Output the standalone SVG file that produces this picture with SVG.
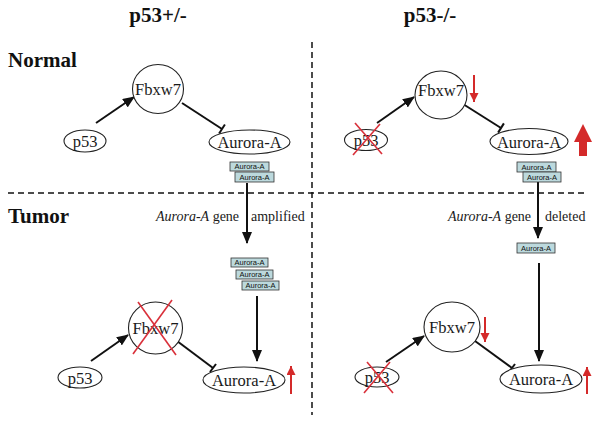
<svg xmlns="http://www.w3.org/2000/svg" width="601" height="423" viewBox="0 0 601 423">
<defs>
<style>
.node{fill:#fff;stroke:#222;stroke-width:1.1}
.lbl{font-family:"Liberation Serif","Times New Roman",serif;font-size:16.5px;fill:#1a1a1a;text-anchor:middle}
.title{font-family:"Liberation Serif","Times New Roman",serif;font-size:21px;font-weight:bold;fill:#111}
.cap{font-family:"Liberation Serif","Times New Roman",serif;font-size:14px;fill:#1a1a1a}
.box{fill:#bcd9dd;stroke:#333;stroke-width:0.8}
.btxt{font-family:"Liberation Sans",Arial,sans-serif;font-size:7.5px;fill:#111;text-anchor:middle}
.edge{stroke:#111;stroke-width:2;fill:none}
.dash{stroke:#111;stroke-width:1.5;stroke-dasharray:6 4;fill:none}
.x{stroke:#d9303a;stroke-width:1.6}
.red{stroke:#d42a2a;stroke-width:2}
</style>
<marker id="ah" markerUnits="userSpaceOnUse" markerWidth="12" markerHeight="10" refX="11" refY="5" orient="auto">
<path d="M0,0 L12,5 L0,10 Z" fill="#111"/>
</marker>
<marker id="rh" markerUnits="userSpaceOnUse" markerWidth="9" markerHeight="10" refX="9" refY="4.5" orient="auto">
<path d="M0,0 L9,4.5 L0,9 Z" fill="#d42a2a"/>
</marker>
</defs>
<rect width="601" height="423" fill="#fff"/>

<g id="headers">
<text class="title" x="158" y="22" text-anchor="middle">p53+/-</text>
<text class="title" x="430" y="22" text-anchor="middle">p53-/-</text>
<text class="title" x="8" y="67">Normal</text>
<text class="title" x="8" y="223">Tumor</text>
<text class="cap" x="156" y="221"><tspan font-style="italic">Aurora-A</tspan> gene</text>
<text class="cap" x="251" y="221">amplified</text>
<text class="cap" x="448" y="221"><tspan font-style="italic">Aurora-A</tspan> gene</text>
<text class="cap" x="545" y="221">deleted</text>
</g>

<g id="dividers">
<line class="dash" x1="8" y1="193" x2="586" y2="193"/>
<line class="dash" x1="312" y1="42" x2="312" y2="415"/>
</g>

<g id="connectors">
<!-- top left -->
<line class="edge" x1="96" y1="123" x2="134" y2="97" marker-end="url(#ah)"/>
<line class="edge" x1="182" y1="103" x2="222" y2="129"/>
<line class="edge" x1="219.1" y1="133.5" x2="224.9" y2="124.5"/>
<line class="edge" x1="247" y1="183" x2="247" y2="243" marker-end="url(#ah)"/>
<line class="edge" x1="257" y1="296" x2="257" y2="361" marker-end="url(#ah)"/>
<!-- top right -->
<line class="edge" x1="377" y1="123" x2="414" y2="97" marker-end="url(#ah)"/>
<line class="edge" x1="463" y1="104" x2="501" y2="128"/>
<line class="edge" x1="498.1" y1="132.6" x2="503.9" y2="123.4"/>
<line class="edge" x1="538" y1="182" x2="538" y2="238" marker-end="url(#ah)"/>
<line class="edge" x1="539" y1="263" x2="539" y2="361" marker-end="url(#ah)"/>
<!-- bottom left -->
<line class="edge" x1="91" y1="361" x2="128" y2="335" marker-end="url(#ah)"/>
<line class="edge" x1="177" y1="341" x2="213" y2="368"/>
<line class="edge" x1="210" y1="372" x2="216" y2="364"/>
<!-- bottom right -->
<line class="edge" x1="386" y1="362" x2="424" y2="336" marker-end="url(#ah)"/>
<line class="edge" x1="475" y1="341" x2="512" y2="368"/>
<line class="edge" x1="509" y1="372" x2="515" y2="364"/>
</g>

<g id="n-p53-tl">
<ellipse class="node" cx="85" cy="141" rx="21" ry="11"/>
<text class="lbl" x="85" y="147">p53</text>
</g>
<g id="n-fbxw7-tl">
<ellipse class="node" cx="158" cy="89" rx="25.5" ry="24.5"/>
<text class="lbl" x="158" y="95">Fbxw7</text>
</g>
<g id="n-aurora-tl">
<ellipse class="node" cx="249.5" cy="142" rx="40.5" ry="12"/>
<text class="lbl" x="249.5" y="148">Aurora-A</text>
</g>
<g id="n-boxes-tl">
<rect class="box" x="230" y="162" width="39" height="9"/>
<text class="btxt" x="249.5" y="169.3">Aurora-A</text>
<rect class="box" x="235" y="172" width="39" height="10"/>
<text class="btxt" x="254.5" y="180">Aurora-A</text>
</g>
<g id="n-boxes-bl">
<rect class="box" x="231" y="258" width="37" height="9"/>
<text class="btxt" x="249.5" y="265.3">Aurora-A</text>
<rect class="box" x="236" y="270" width="37" height="9"/>
<text class="btxt" x="254.5" y="277.3">Aurora-A</text>
<rect class="box" x="242" y="281" width="37" height="9"/>
<text class="btxt" x="260.5" y="288.3">Aurora-A</text>
</g>

<g id="n-p53-tr">
<ellipse class="node" cx="366" cy="140" rx="21.5" ry="10.5"/>
<text class="lbl" x="366" y="146">p53</text>
<line class="x" x1="355" y1="123" x2="382" y2="154"/>
<line class="x" x1="380" y1="124" x2="353" y2="155"/>
</g>
<g id="n-fbxw7-tr">
<ellipse class="node" cx="441" cy="95" rx="26" ry="24"/>
<text class="lbl" x="441" y="96">Fbxw7</text>
<line class="red" x1="474" y1="75" x2="474" y2="102" marker-end="url(#rh)"/>
</g>
<g id="n-aurora-tr">
<ellipse class="node" cx="529" cy="141.5" rx="39" ry="13"/>
<text class="lbl" x="529" y="147.5">Aurora-A</text>
<path d="M583,124 L592,142 L587,142 L587,156 L579,156 L579,142 L574,142 Z" fill="#d42a2a"/>
</g>
<g id="n-boxes-tr">
<rect class="box" x="517" y="162" width="39" height="10"/>
<text class="btxt" x="536.5" y="170">Aurora-A</text>
<rect class="box" x="523" y="172" width="38" height="10"/>
<text class="btxt" x="542" y="180">Aurora-A</text>
</g>
<g id="n-box-br">
<rect class="box" x="517" y="243" width="38" height="10"/>
<text class="btxt" x="536" y="251">Aurora-A</text>
</g>

<g id="n-p53-bl">
<ellipse class="node" cx="80" cy="377.5" rx="22" ry="10.5"/>
<text class="lbl" x="80" y="383.5">p53</text>
</g>
<g id="n-fbxw7-bl">
<ellipse class="node" cx="155.5" cy="328" rx="27" ry="26"/>
<text class="lbl" x="155.5" y="334">Fbxw7</text>
<line class="x" x1="138" y1="302" x2="176" y2="355"/>
<line class="x" x1="172" y1="300" x2="133" y2="354"/>
</g>
<g id="n-aurora-bl">
<ellipse class="node" cx="244" cy="380" rx="41" ry="13"/>
<text class="lbl" x="244" y="386">Aurora-A</text>
<line class="red" x1="291" y1="394" x2="291" y2="366" marker-end="url(#rh)"/>
</g>

<g id="n-p53-br">
<ellipse class="node" cx="377" cy="377" rx="22" ry="10"/>
<text class="lbl" x="377" y="383">p53</text>
<line class="x" x1="367" y1="362" x2="393" y2="393"/>
<line class="x" x1="390" y1="362" x2="364" y2="393"/>
</g>
<g id="n-fbxw7-br">
<ellipse class="node" cx="452" cy="327" rx="28" ry="25"/>
<text class="lbl" x="452" y="333">Fbxw7</text>
<line class="red" x1="485" y1="317" x2="485" y2="342" marker-end="url(#rh)"/>
</g>
<g id="n-aurora-br">
<ellipse class="node" cx="541" cy="379" rx="41" ry="14"/>
<text class="lbl" x="541" y="385">Aurora-A</text>
<line class="red" x1="587" y1="394" x2="587" y2="367" marker-end="url(#rh)"/>
</g>
</svg>
